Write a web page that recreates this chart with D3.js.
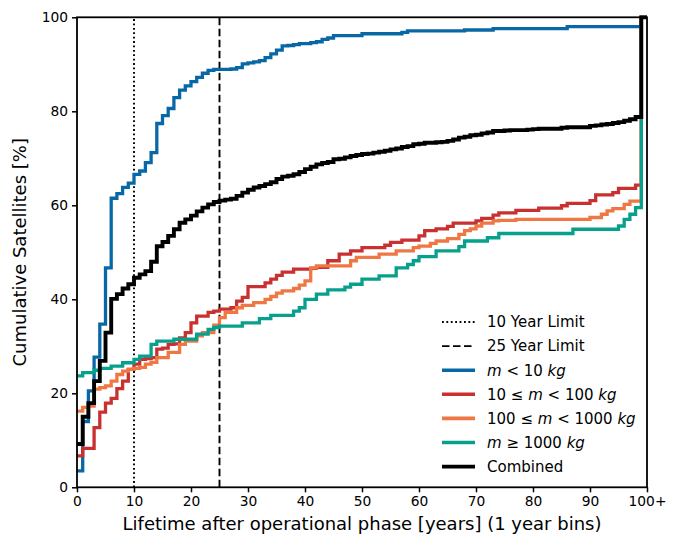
<!DOCTYPE html>
<html><head><meta charset="utf-8">
<script src="https://cdn.jsdelivr.net/npm/d3@7"></script>
<style>body{margin:0;background:#fff}svg{display:block;font-family:"DejaVu Sans",sans-serif}</style>
</head><body><svg id="c" width="681" height="536"></svg>
<script>
const years = d3.range(0, 101);
const xTicks = [0,10,20,30,40,50,60,70,80,90,100];
const xTickLabels = ["0","10","20","30","40","50","60","70","80","90","100+"];
const yTicks = [0,20,40,60,80,100];
const limits = [{year:10, label:"10 Year Limit", dash:"1.8,2.6"},{year:25, label:"25 Year Limit", dash:"7.5,3.5"}];

const blue = [3.5,14.0,20.5,27.7,34.7,46.7,61.5,62.5,63.8,64.7,
66.6,67.3,69.1,71.2,77.4,79.1,80.6,82.9,84.5,85.4,
86.3,87.2,88.1,88.7,88.9,88.9,88.9,89.0,89.3,90.1,
90.3,90.5,90.8,91.4,92.2,93.0,93.9,94.0,94.2,94.4,
94.4,94.6,94.8,95.3,95.6,96.1,96.1,96.1,96.1,96.1,
96.5,96.5,96.5,96.5,96.5,96.5,96.5,96.8,97.1,97.1,
97.1,97.1,97.1,97.1,97.1,97.1,97.1,97.1,97.3,97.3,
97.3,97.3,97.3,97.6,97.6,97.6,97.6,97.6,97.6,97.6,
97.6,97.6,97.6,97.6,97.6,97.6,98.0,98.0,98.0,98.0,
98.0,98.0,98.0,98.0,98.0,98.0,98.0,98.0,98.0,100,100];
const red = [6.7,8.3,8.3,12.7,16.0,17.9,18.9,21.0,22.6,25.1,
26.2,27.2,27.4,27.6,29.4,29.6,30.4,30.5,31.8,32.9,
35.0,36.4,36.4,37.2,37.5,37.9,37.9,38.2,39.6,40.4,
42.7,42.7,42.7,43.5,44.3,45.1,45.8,45.8,46.4,46.4,
46.4,46.6,46.8,46.8,48.2,48.2,49.6,49.6,50.3,50.3,
51.0,51.0,51.0,51.0,51.5,52.1,52.1,52.6,52.6,52.6,
53.5,54.6,54.6,55.0,55.0,55.5,56.2,56.2,56.2,56.2,
56.7,57.2,57.2,57.9,58.4,58.4,58.4,58.9,58.9,58.9,
58.9,59.4,59.4,59.4,59.4,59.9,60.4,60.4,60.4,60.4,
61.0,62.2,62.2,62.2,62.7,63.6,63.6,63.6,64.3,100,100];
const orange = [16.2,17.0,17.3,20.9,21.2,21.6,22.6,24.0,24.7,25.1,
25.3,25.5,26.2,26.6,27.6,27.6,28.7,28.7,30.4,31.1,
31.1,32.2,32.9,32.9,34.5,36.1,37.2,37.2,38.2,38.7,
38.7,39.3,39.3,40.0,40.6,41.3,41.8,41.8,42.3,43.0,
43.9,46.7,47.1,47.1,47.1,47.1,47.1,47.1,48.2,48.9,
48.9,48.9,48.9,49.6,49.6,49.6,50.3,50.3,50.3,51.0,
51.3,51.3,51.9,52.4,52.4,52.9,52.9,53.8,54.6,55.0,
55.6,56.2,56.2,56.7,56.8,56.8,56.8,57.0,57.0,57.0,
57.0,57.0,57.0,57.0,57.0,57.0,57.0,57.0,57.0,57.0,
57.4,57.4,58.1,58.8,59.3,59.3,60.2,60.9,60.9,100,100];
const teal = [23.7,24.4,24.4,24.9,25.3,25.3,25.8,25.8,26.5,26.5,
27.2,27.9,27.9,30.4,31.1,31.1,31.1,31.5,31.5,31.5,
31.5,32.6,32.6,33.6,34.0,34.3,34.3,34.3,34.3,35.0,
35.0,35.0,35.9,35.9,36.6,36.6,36.6,36.6,37.5,38.2,
40.0,40.0,41.1,41.1,42.0,42.0,42.0,42.6,43.2,43.2,
44.3,44.3,44.3,45.0,45.0,45.0,46.7,46.7,47.4,48.2,
49.1,49.1,49.1,50.3,50.3,50.3,50.3,51.2,52.4,52.4,
52.4,52.4,53.1,53.1,54.0,54.0,54.0,54.0,54.0,54.0,
54.0,54.0,54.0,54.0,54.0,54.0,54.0,54.9,54.9,54.9,
54.9,54.9,54.9,54.9,54.9,55.6,57.0,58.1,59.5,100,100];
const combined = [9.2,15.0,17.9,22.6,26.9,32.9,40.1,41.1,42.3,43.2,
44.6,45.3,46.0,48.0,51.3,52.2,53.5,54.9,56.3,57.0,
57.8,58.7,59.5,60.2,60.7,61.0,61.2,61.4,62.0,62.7,
63.3,63.8,64.1,64.5,64.9,65.6,66.1,66.3,66.6,67.1,
67.7,68.2,68.7,69.0,69.2,69.8,69.9,70.2,70.5,70.7,
70.9,71.0,71.2,71.4,71.6,71.9,72.1,72.4,72.6,73.0,
73.1,73.3,73.3,73.4,73.5,73.7,74.0,74.4,74.6,74.9,
75.0,75.3,75.5,75.8,75.8,75.9,76.0,76.0,76.0,76.1,
76.2,76.3,76.3,76.3,76.3,76.5,76.6,76.6,76.6,76.6,
76.9,77.0,77.2,77.3,77.5,77.7,78.0,78.3,78.8,100,100];

const seriesNames = ["m<10","10-100","100-1000","m>=1000","Combined"];
const seriesValues = [blue, red, orange, teal, combined];
const seriesColors = ["#0868a6","#c8312f","#ee7744","#06a08c","#000000"];
const seriesWidths = [3.3, 3.3, 3.3, 3.3, 3.9];

const svg = d3.select("#c");
const m = {left:77, top:17.3, right:34, bottom:48.7};
const W = 681 - m.left - m.right, H = 536 - m.top - m.bottom;
const g = svg.append("g").attr("transform", `translate(${m.left},${m.top})`);
const x = d3.scaleLinear().domain([0,100]).range([0,W]);
const y = d3.scaleLinear().domain([0,100]).range([H,0]);

const defs = svg.append("defs");
defs.append("clipPath").attr("id","clip").append("rect").attr("x",0).attr("y",-2).attr("width",W).attr("height",H+4);

// limit lines
g.selectAll("line.lim").data(limits).join("line").attr("class","lim")
  .attr("x1",d=>x(d.year)).attr("x2",d=>x(d.year)).attr("y1",y(0)).attr("y2",y(100))
  .attr("stroke","#000").attr("stroke-width",1.9).attr("stroke-dasharray",d=>d.dash);

const line = d3.line().x((d,i)=>x(years[i])).y(d=>y(d)).curve(d3.curveStepAfter);
const lines = g.append("g").attr("clip-path","url(#clip)");
seriesValues.forEach((vals,k)=>{
  lines.append("path").datum(vals).attr("d",line).attr("fill","none")
    .attr("stroke",seriesColors[k]).attr("stroke-width",seriesWidths[k]).attr("stroke-linejoin","miter");
});

// axes
const xAxis = d3.axisBottom(x).tickValues(xTicks).tickFormat((d,i)=>xTickLabels[i]).tickSize(5).tickPadding(4);
const yAxis = d3.axisLeft(y).tickValues(yTicks).tickSize(5).tickPadding(4);
const gx = g.append("g").attr("transform",`translate(0,${H})`).call(xAxis);
const gy = g.append("g").call(yAxis);
[gx,gy].forEach(a=>{
  a.select(".domain").remove();
  a.selectAll(".tick line").attr("stroke","#000").attr("stroke-width",1.5);
  a.selectAll(".tick text").attr("fill","#000").style("font-size","13.8px").style("font-family","DejaVu Sans");
});
g.append("rect").attr("x",0).attr("y",0).attr("width",W).attr("height",H)
  .attr("fill","none").attr("stroke","#000").attr("stroke-width",1.8);

g.append("text").attr("x",W/2).attr("y",H+43).attr("text-anchor","middle")
  .style("font-size","18px").text("Lifetime after operational phase [years] (1 year bins)");
g.append("text").attr("transform",`translate(${-51},${H/2}) rotate(-90)`).attr("text-anchor","middle")
  .style("font-size","18px").text("Cumulative Satellites [%]");

// legend
const legend = svg.append("g").attr("transform","translate(442,322)");
const legItems = [
  {parts:[["10 Year Limit",false]], color:"#000", dash:limits[0].dash, w:1.9},
  {parts:[["25 Year Limit",false]], color:"#000", dash:limits[1].dash, w:1.9},
  {parts:[["m",true],[" < 10 ",false],["kg",true]], color:seriesColors[0], w:3.6},
  {parts:[["10 ≤ ",false],["m",true],[" < 100 ",false],["kg",true]], color:seriesColors[1], w:3.6},
  {parts:[["100 ≤ ",false],["m",true],[" < 1000 ",false],["kg",true]], color:seriesColors[2], w:3.6},
  {parts:[["m",true],[" ≥ 1000 ",false],["kg",true]], color:seriesColors[3], w:3.6},
  {parts:[["Combined",false]], color:"#000", w:3.8}
];
legItems.forEach((it,i)=>{
  const row = legend.append("g").attr("transform",`translate(0,${i*24.1})`);
  row.append("line").attr("x1",0).attr("x2",33).attr("y1",0).attr("y2",0)
    .attr("stroke",it.color).attr("stroke-width",it.w).attr("stroke-dasharray",it.dash||null);
  const t = row.append("text").attr("x",45).attr("y",5.3).style("font-size","15px");
  it.parts.forEach(p=>{ t.append("tspan").text(p[0]).attr("font-style",p[1]?"italic":null).attr("xml:space","preserve"); });
});
</script></body></html>
